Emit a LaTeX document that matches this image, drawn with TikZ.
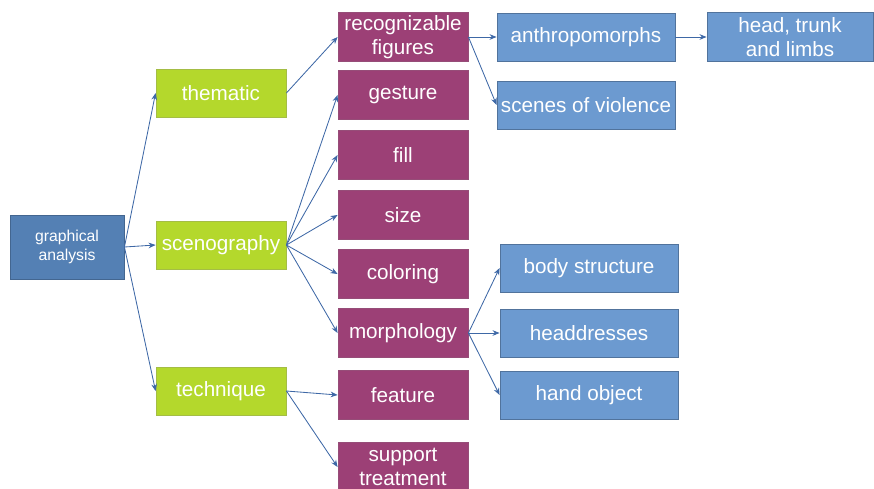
\documentclass[tikz,border=0pt]{standalone}
\usepackage{fontspec}
\setmainfont{Liberation Sans}
\usetikzlibrary{arrows.meta}
\definecolor{rootblue}{RGB}{84,128,180}
\definecolor{leafblue}{RGB}{108,154,208}
\definecolor{levelgreen}{RGB}{180,216,44}
\definecolor{levelpurple}{RGB}{156,64,118}
\definecolor{linkblue}{RGB}{62,104,166}
\tikzset{
  box/.style={rectangle,inner sep=0pt,align=center,text=white,
    font=\fontsize{14.7}{17}\selectfont,line width=0.6pt},
  root/.style={box,fill=rootblue,draw=rootblue!80!black,
    minimum width=114\pxu,minimum height=64\pxu,
    font=\fontsize{11.2}{13.5}\selectfont},
  theme/.style={box,fill=levelgreen,draw=levelgreen!70!gray,
    minimum width=130\pxu,minimum height=48\pxu},
  item/.style={box,fill=levelpurple,draw=levelpurple!80!gray,
    minimum width=130\pxu,minimum height=49\pxu},
  leaf/.style={box,fill=leafblue,draw=leafblue!75!black,
    minimum width=178\pxu,minimum height=48\pxu},
  link/.style={draw=linkblue,line width=0.6pt,
    -{Stealth[length=5pt,width=4pt]}}
}
\newcommand{\pxu}{*0.025cm}

\begin{document}
\begin{tikzpicture}[x=0.025cm,y=-0.025cm]
  \useasboundingbox (0,0) rectangle (874,488);
  %
  % -- Root of the analysis
  \node[root] (ga) at (67,247) {graphical\\analysis};

  % -- First level: thematic, scenography, technique
  \node[theme] (them) at (221,93)  {thematic};
  \node[theme] (scen) at (221,245) {scenography};
  \node[theme] (tech) at (221,391) {technique};

  % -- Second level
  \node[item] (recog) at (403,37)  {recognizable\\figures};
  \node[item] (gest)  at (403,95)  {gesture};
  \node[item] (fill)  at (403,155) {fill};
  \node[item] (size)  at (403,215) {size};
  \node[item] (color) at (403,274) {coloring};
  \node[item] (morph) at (403,333) {morphology};
  \node[item] (feat)  at (403,395) {feature};
  \node[item] (supp)  at (403,467) {support\\treatment};

  % -- Third level
  \node[leaf] (anth)  at (586,37)  {anthropomorphs};
  \node[leaf] (viol)  at (586,105) {scenes of violence};
  \node[leaf] (body)  at (589,268) {body structure};
  \node[leaf] (headd) at (589,333) {headdresses};
  \node[leaf] (hand)  at (589,395) {hand object};

  % -- Fourth level
  \node[leaf,minimum width=166\pxu,minimum height=49\pxu] (limbs) at (790,37) {head, trunk\\and limbs};

  % -- Connectors
  \foreach \a in {them,scen,tech}
    \draw[link] (ga.east) -- (\a.west);
  \draw[link] (them.east) -- (recog.west);
  \foreach \a in {gest,fill,size,color,morph}
    \draw[link] (scen.east) -- (\a.west);
  \foreach \a in {feat,supp}
    \draw[link] (tech.east) -- (\a.west);
  \foreach \a in {anth,viol}
    \draw[link] (recog.east) -- (\a.west);
  \draw[link] (anth.east) -- (limbs.west);
  \foreach \a in {body,headd,hand}
    \draw[link] (morph.east) -- (\a.west);
\end{tikzpicture}
\end{document}
